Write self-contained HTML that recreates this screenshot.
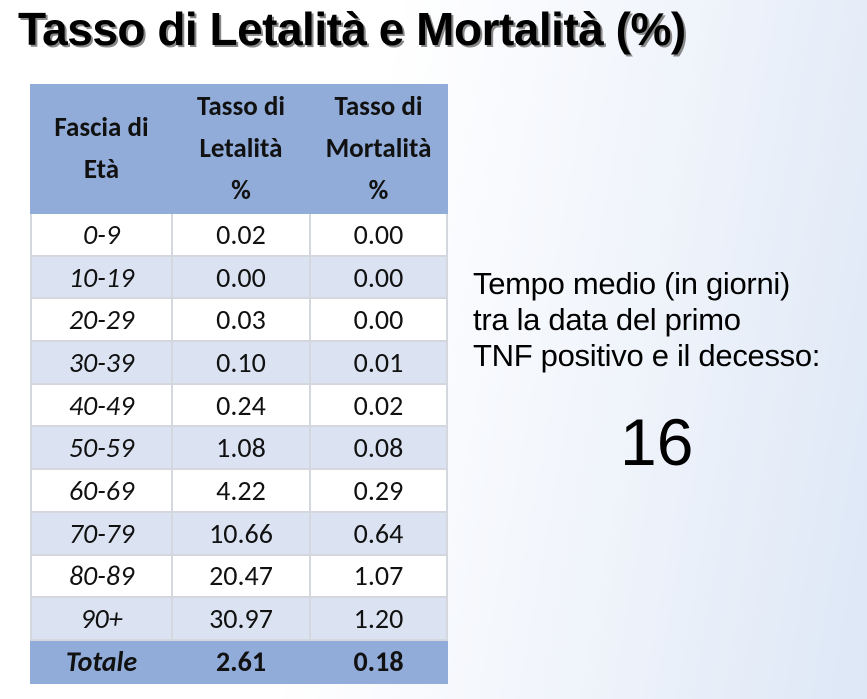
<!DOCTYPE html>
<html><head><meta charset="utf-8"><style>
body{margin:0;width:867px;height:699px;overflow:hidden;position:relative;
background:linear-gradient(100deg,#ffffff 0%,#ffffff 40%,#f0f4fb 70%,#dde7f6 100%);
font-family:"Liberation Sans",sans-serif;}
.title{position:absolute;left:18px;top:2px;font-size:46px;font-weight:bold;color:#000;letter-spacing:-0.5px;
text-shadow:2px 2px 0 #888;white-space:nowrap;}
table{position:absolute;left:30px;top:84px;border-collapse:collapse;font-family:"Carlito","Liberation Sans",sans-serif;table-layout:fixed;}
td{border:2px solid #d4d8de;text-align:center;font-size:28px;color:#111;height:40.7px;padding:0;overflow:hidden;}
tr.h td{background:#91acd9;font-weight:bold;font-size:27px;height:126px;line-height:42px;border-color:#91acd9;}
tr.a td{background:#fff}
tr.b td{background:#dbe3f2}
tr.t td{background:#91acd9;font-weight:bold;border-color:#91acd9}
td:first-child{font-style:italic}
tr.h td:first-child{font-style:normal}
.c1{width:139px}.c2{width:136px}.c3{width:135px}
.txt{position:absolute;left:473px;top:266px;font-size:31px;line-height:36px;color:#000;white-space:nowrap;letter-spacing:-0.3px;}
.big{position:absolute;left:620px;top:404px;font-size:66px;color:#000;}
</style></head><body>
<div class="title">Tasso di Letalità e Mortalità (%)</div>
<table>
<tr class="h"><td class="c1">Fascia di<br>Età</td><td class="c2">Tasso di<br>Letalità<br>%</td><td class="c3">Tasso di<br>Mortalità<br>%</td></tr>
<tr class="a"><td>0-9</td><td>0.02</td><td>0.00</td></tr>
<tr class="b"><td>10-19</td><td>0.00</td><td>0.00</td></tr>
<tr class="a"><td>20-29</td><td>0.03</td><td>0.00</td></tr>
<tr class="b"><td>30-39</td><td>0.10</td><td>0.01</td></tr>
<tr class="a"><td>40-49</td><td>0.24</td><td>0.02</td></tr>
<tr class="b"><td>50-59</td><td>1.08</td><td>0.08</td></tr>
<tr class="a"><td>60-69</td><td>4.22</td><td>0.29</td></tr>
<tr class="b"><td>70-79</td><td>10.66</td><td>0.64</td></tr>
<tr class="a"><td>80-89</td><td>20.47</td><td>1.07</td></tr>
<tr class="b"><td>90+</td><td>30.97</td><td>1.20</td></tr>
<tr class="t"><td>Totale</td><td>2.61</td><td>0.18</td></tr>
</table>
<div class="txt">Tempo medio (in giorni)<br>tra la data del primo<br>TNF positivo e il decesso:</div>
<div class="big">16</div>
</body></html>
